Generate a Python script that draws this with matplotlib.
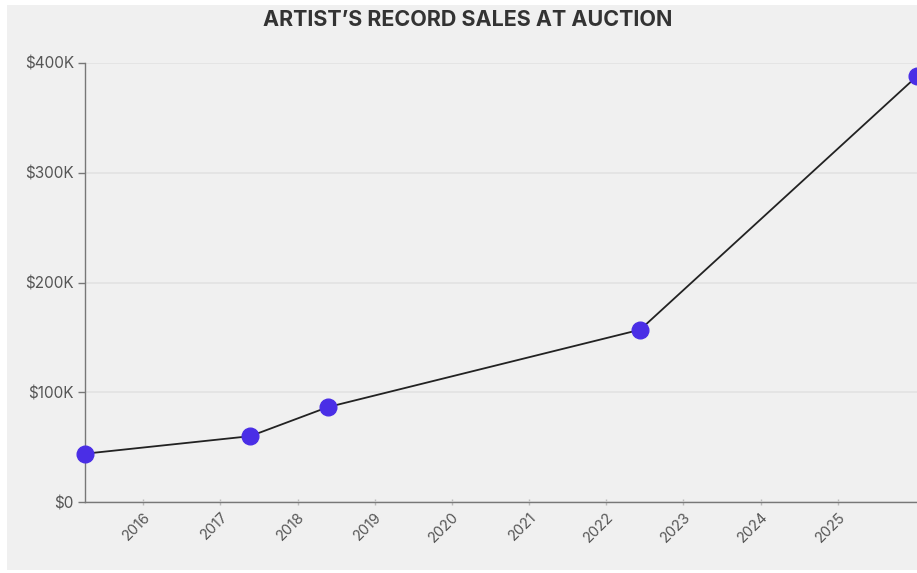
import matplotlib
matplotlib.use("Agg")
import matplotlib.pyplot as plt
import matplotlib.dates as mdates
from matplotlib.patches import Rectangle
from matplotlib.ticker import FuncFormatter
import datetime as dt

# Data
sale_dates = ["2015-04-01", "2017-05-22", "2018-05-25", "2022-06-10", "2026-01-10"]
sale_prices = [44000, 60000, 86500, 157000, 388000]
tick_years = [2016, 2017, 2018, 2019, 2020, 2021, 2022, 2023, 2024, 2025]
y_ticks = [0, 100000, 200000, 300000, 400000]
title = "ARTIST\u2019S RECORD SALES AT AUCTION"

plt.rcParams['font.family'] = ['Inter', 'DejaVu Sans']

dates = [dt.datetime.strptime(d, "%Y-%m-%d") for d in sale_dates]

fig = plt.figure(figsize=(9.17, 5.73), dpi=100, facecolor="white")
fig.patches.append(Rectangle((7/917, 3/573), 1 - 7/917, 1 - 8/573,
                             transform=fig.transFigure, facecolor="#f0f0f0",
                             edgecolor="none", zorder=-10))

ax = fig.add_axes([85/917, 1 - 502/573, 1 - 85/917, (502 - 63)/573])
ax.set_facecolor("none")

ax.plot(dates, sale_prices, color="#222222", lw=1.3, zorder=3, clip_on=False)
ax.plot(dates, sale_prices, linestyle="none", marker="o", markersize=12,
        markerfacecolor="#4a2ee6", markeredgecolor="#4a2ee6", zorder=4, clip_on=False)

ax.set_xlim(dates[0], dates[-1])
ax.set_ylim(0, 400000)

ax.set_yticks(y_ticks)
ax.yaxis.set_major_formatter(FuncFormatter(lambda v, p: "$0" if v == 0 else f"${int(v/1000)}K"))
ax.set_xticks([dt.datetime(y, 1, 1) for y in tick_years])
ax.set_xticklabels([str(y) for y in tick_years], rotation=45, ha="right",
                   rotation_mode="anchor")

ax.tick_params(axis="y", length=5, width=1, color="#777777", labelcolor="#555555",
               labelsize=11, pad=3)
ax.tick_params(axis="x", length=5, width=1, color="#bbbbbb", labelcolor="#555555",
               labelsize=10.5, pad=3, direction="inout")

ax.grid(axis="y", color="#e2e2e2", lw=1.2)
ax.set_axisbelow(True)
for s in ["top", "right"]:
    ax.spines[s].set_visible(False)
for s in ["left", "bottom"]:
    ax.spines[s].set_color("#777777")
    ax.spines[s].set_linewidth(1)

fig.text(468/917, 1 - 20/573, title, ha="center", va="center",
         fontsize=15.5, fontweight="bold", color="#333333")

fig.savefig("out.png", dpi=100, facecolor=fig.get_facecolor())
